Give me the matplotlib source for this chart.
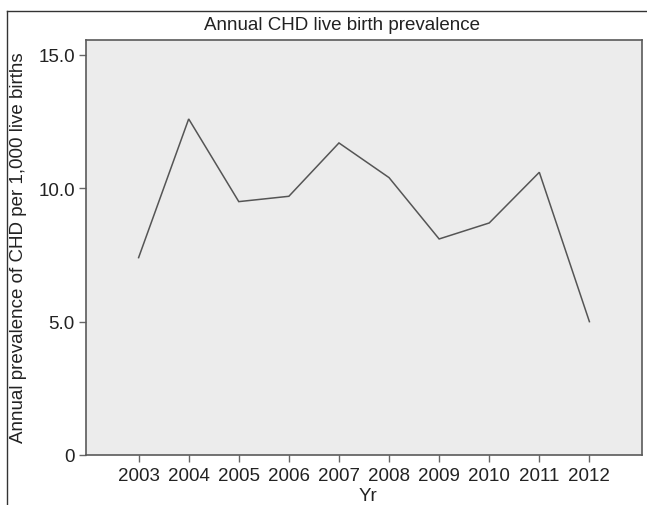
import matplotlib
matplotlib.use("Agg")
import matplotlib.pyplot as plt
from matplotlib.lines import Line2D

years = [2003, 2004, 2005, 2006, 2007, 2008, 2009, 2010, 2011, 2012]
prevalence = [7.4, 12.6, 9.5, 9.7, 11.7, 10.4, 8.1, 8.7, 10.6, 5.0]
ytick_vals = [0, 5, 10, 15]
ytick_labels = ["0", "5.0", "10.0", "15.0"]

plt.rcParams['font.family'] = ['Liberation Sans', 'DejaVu Sans']

W, H = 647, 506
fig = plt.figure(figsize=(W / 100, H / 100), dpi=100)
fig.patch.set_facecolor('white')

left, right, top, bottom = 86, 642, 41, 456
ax = fig.add_axes([left / W, 1 - bottom / H, (right - left) / W, (bottom - top) / H])
ax.set_facecolor('#ececec')

ax.plot(years, prevalence, color='#555555', linewidth=1.1, solid_joinstyle='miter')

ax.set_xlim(2001.95, 2013.05)
ax.set_ylim(0, 15.56)
ax.set_xticks(years)
ax.set_xticklabels([str(y) for y in years])
ax.set_yticks(ytick_vals)
ax.set_yticklabels(ytick_labels)

for s in ax.spines.values():
    s.set_color('#5a5a5a')
    s.set_linewidth(1.2)

ax.tick_params(axis='both', direction='out', length=5, width=1.0, color='#666666',
               labelsize=13.5, labelcolor='#222222')
ax.tick_params(axis='x', pad=4)
ax.tick_params(axis='y', pad=3)

fig.text(342 / W, 1 - 26 / H, "Annual CHD live birth prevalence", ha='center', va='center',
         fontsize=13.5, color='#222222')
fig.text(368 / W, 1 - 497 / H, "Yr", ha='center', va='center', fontsize=13.5, color='#222222')
fig.text(19 / W, 1 - 248 / H, "Annual prevalence of CHD per 1,000 live births", ha='center',
         va='center', rotation=90, fontsize=13.5, color='#222222')

# outer frame lines (top and left)
fig.add_artist(Line2D([6.5 / W, 1.0], [1 - 11.5 / H, 1 - 11.5 / H], transform=fig.transFigure,
                      color='#333333', linewidth=1.0))
fig.add_artist(Line2D([6.5 / W, 6.5 / W], [0, 1 - 11.5 / H], transform=fig.transFigure,
                      color='#333333', linewidth=1.0))

fig.savefig("out.png", dpi=100)
